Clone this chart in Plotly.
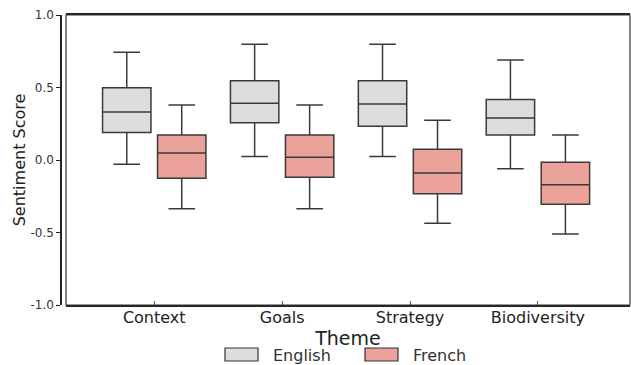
import plotly.graph_objects as go

themes = ["Context", "Goals", "Strategy", "Biodiversity"]

# English box statistics
en_lower = [-0.03, 0.025, 0.025, -0.06]
en_q1 = [0.19, 0.257, 0.232, 0.172]
en_median = [0.331, 0.391, 0.386, 0.29]
en_q3 = [0.499, 0.547, 0.547, 0.418]
en_upper = [0.743, 0.798, 0.798, 0.69]

# French box statistics
fr_lower = [-0.336, -0.336, -0.437, -0.51]
fr_q1 = [-0.126, -0.119, -0.232, -0.306]
fr_median = [0.048, 0.019, -0.09, -0.17]
fr_q3 = [0.172, 0.172, 0.074, -0.016]
fr_upper = [0.379, 0.379, 0.274, 0.172]

y_ticks = [-1.0, -0.5, 0.0, 0.5, 1.0]
y_tick_labels = ["-1.0", "-0.5", "0.0", "0.5", "1.0"]

series_names = ["English", "French"]
series_colors = ["#dddddd", "#eba29b"]

FONT = "DejaVu Sans"
LINE = "#3a3a3a"

W, H = 631, 365
ML, MR, MT, MB = 61, 1, 15, 60
PW, PH = W - ML - MR, H - MT - MB


def px(x):
    return (x - ML) / PW


def py(y):
    return (H - MB - y) / PH


fig = go.Figure()
stats = [
    (en_lower, en_q1, en_median, en_q3, en_upper),
    (fr_lower, fr_q1, fr_median, fr_q3, fr_upper),
]
for name, color, (lo, q1, med, q3, hi) in zip(series_names, series_colors, stats):
    fig.add_trace(go.Box(
        name=name, x=themes, q1=q1, median=med, q3=q3,
        lowerfence=lo, upperfence=hi,
        fillcolor=color, line=dict(color=LINE, width=1.5),
        whiskerwidth=0.55, boxpoints=False, showlegend=False,
    ))

# custom legend (swatches + text) to mimic the reference legend layout
shapes = [dict(type="rect", xref="x domain", yref="y domain", x0=0, x1=1, y0=0, y1=1,
               line=dict(color="#333333", width=1.2), layer="above")]
annotations = []
legend_x = [225, 365]
for i, (name, color) in enumerate(zip(series_names, series_colors)):
    x0 = legend_x[i]
    shapes.append(dict(type="rect", xref="paper", yref="paper",
                       x0=px(x0), x1=px(x0 + 33), y0=py(361), y1=py(348),
                       fillcolor=color, line=dict(color="#333333", width=1.2)))
    annotations.append(dict(text=name, xref="paper", yref="paper",
                            x=px(x0 + 46), y=py(355), xanchor="left", yanchor="middle",
                            showarrow=False, font=dict(size=16, color="#333333")))

fig.update_layout(
    width=W, height=H,
    margin=dict(l=ML, r=MR, t=MT, b=MB),
    paper_bgcolor="white", plot_bgcolor="white",
    boxmode="group", boxgap=0.14, boxgroupgap=0.12,
    font=dict(family=FONT, color="#222222"),
    showlegend=False,
    xaxis=dict(
        domain=[5 / PW, 1.0], range=[-0.69, 3.72], automargin=False,
        showline=True, linecolor="#222222", linewidth=1.5, mirror=True,
        ticks="inside", ticklen=4, tickcolor="#555555",
        ticklabelstandoff=-3,
        tickfont=dict(size=16, color="#222222"),
        showgrid=False, zeroline=False,
        title=dict(text="Theme", font=dict(size=19, color="#222222"), standoff=0),
    ),
    yaxis=dict(
        anchor="free", position=0, range=[-1, 1], automargin=False,
        tickvals=y_ticks, ticktext=y_tick_labels,
        showline=True, linecolor="#222222", linewidth=1.5,
        ticks="outside", ticklen=4, tickcolor="#222222",
        tickfont=dict(size=12, color="#333333"),
        showgrid=False, zeroline=False,
        title=dict(text="Sentiment Score", font=dict(size=16, color="#222222"), standoff=0),
    ),
    shapes=shapes,
    annotations=annotations,
)

fig.write_html("out.html", config={"displayModeBar": False},
               post_script="document.body.style.margin='0';")
